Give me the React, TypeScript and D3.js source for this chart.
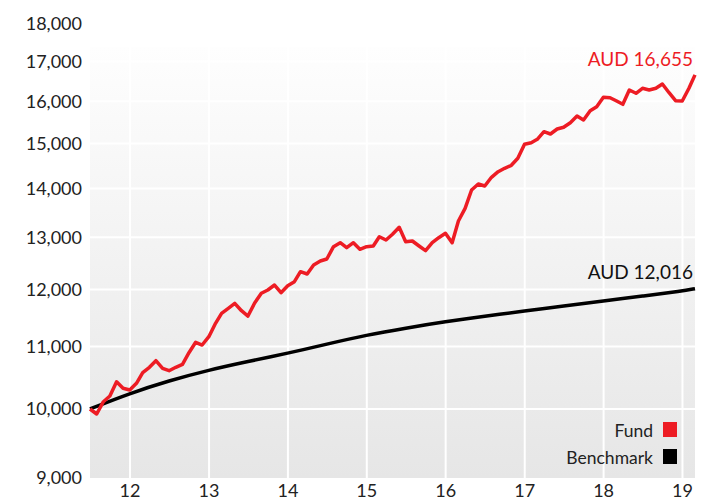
import * as d3 from "d3";

// fund growth of AUD 10,000, month-end values from Jun 2011
const fundStart = new Date(2011, 6, 0);
const fundValues = [
  10000, 9924, 10112, 10200, 10425, 10321, 10294, 10400, 10570, 10657,
  10765, 10641, 10602, 10657, 10706, 10897, 11072, 11026, 11167, 11398,
  11573, 11662, 11751, 11619, 11525, 11757, 11932, 11992, 12084, 11943,
  12071, 12145, 12332, 12289, 12459, 12535, 12573, 12812, 12890, 12792,
  12890, 12761, 12812, 12825, 13009, 12943, 13057, 13197, 12910, 12924,
  12825, 12734, 12890, 12989, 13077, 12890, 13324, 13585, 13970, 14099,
  14056, 14244, 14366, 14441, 14507, 14663, 14980, 15016, 15094, 15271,
  15217, 15334, 15374, 15482, 15641, 15546, 15768, 15865, 16094, 16084,
  16011, 15923, 16275, 16193, 16317, 16275, 16317, 16424, 16207, 16011,
  16003, 16317, 16655,
];

const benchDates = [
  "2011-06-30", "2011-12-31", "2012-06-30", "2012-12-31", "2013-06-30",
  "2013-12-31", "2014-06-30", "2014-12-31", "2015-06-30", "2015-12-31",
  "2016-06-30", "2016-12-31", "2017-06-30", "2017-12-31", "2018-06-30",
  "2018-12-31", "2019-02-28",
];
const benchValues = [
  10000, 10242, 10441, 10613, 10752, 10887, 11042, 11196, 11315, 11426,
  11522, 11614, 11703, 11792, 11882, 11974, 12016,
];

const yTicks = [9000, 10000, 11000, 12000, 13000, 14000, 15000, 16000, 17000, 18000];
const xTickYears = [2012, 2013, 2014, 2015, 2016, 2017, 2018, 2019];
const legendItems = [
  { label: "Fund", color: "#ed1c24" },
  { label: "Benchmark", color: "#000000" },
];

const width = 709;
const height = 500;
const margin = { top: 47, right: 14, bottom: 22, left: 90 };
const font = "Lato, 'Noto Sans', sans-serif";

export default function App() {
  const fund = fundValues.map((v, i) => ({
    date: new Date(fundStart.getFullYear(), fundStart.getMonth() + 1 + i, 0),
    value: v,
  }));
  const parse = d3.timeParse("%Y-%m-%d");
  const bench = benchDates.map((d, i) => ({ date: parse(d) as Date, value: benchValues[i] }));

  const x = d3
    .scaleTime()
    .domain([fund[0].date, fund[fund.length - 1].date])
    .range([margin.left, width - margin.right]);

  const y = d3.scaleLog().domain([9000, 18000]).range([height - margin.bottom, 24]);

  const line = d3
    .line<{ date: Date; value: number }>()
    .x((d) => x(d.date))
    .y((d) => y(d.value));

  const benchLine = d3
    .line<{ date: Date; value: number }>()
    .x((d) => x(d.date))
    .y((d) => y(d.value))
    .curve(d3.curveBasis);

  const fmt = d3.format(",");
  const plotRight = width - margin.right;
  const plotBottom = height - margin.bottom;
  const lastFund = fund[fund.length - 1];
  const lastBench = bench[bench.length - 1];

  return (
    <svg
      width={width}
      height={height}
      style={{ position: "absolute", left: 0, top: 0, background: "#fff" }}
      fontFamily={font}
    >
      <defs>
        <linearGradient id="bg" x1="0" y1="0" x2="0" y2="1">
          <stop offset="0%" stopColor="#fefefe" />
          <stop offset="100%" stopColor="#e6e6e6" />
        </linearGradient>
      </defs>

      <rect
        x={margin.left}
        y={margin.top}
        width={plotRight - margin.left}
        height={plotBottom - margin.top}
        fill="url(#bg)"
      />

      {/* grid */}
      {yTicks.slice(1, -1).map((t) => (
        <line
          key={t}
          x1={margin.left}
          x2={plotRight}
          y1={y(t)}
          y2={y(t)}
          stroke="#fff"
          strokeWidth={2}
        />
      ))}
      {xTickYears.map((yr) => (
        <line
          key={yr}
          x1={x(new Date(yr, 0, 1))}
          x2={x(new Date(yr, 0, 1))}
          y1={margin.top}
          y2={plotBottom}
          stroke="#fff"
          strokeWidth={2}
        />
      ))}

      {/* y labels */}
      {yTicks.map((t) => (
        <text
          key={t}
          x={82}
          y={y(t)}
          dy="0.36em"
          textAnchor="end"
          fontSize={18}
          fill="#222"
        >
          {fmt(t)}
        </text>
      ))}

      {/* x labels */}
      {xTickYears.map((yr) => (
        <text
          key={yr}
          x={x(new Date(yr, 0, 1))}
          y={497}
          textAnchor="middle"
          fontSize={18}
          fill="#222"
        >
          {String(yr).slice(2)}
        </text>
      ))}

      <path d={benchLine(bench) ?? ""} fill="none" stroke="#000" strokeWidth={3.5} />
      <path
        d={line(fund) ?? ""}
        fill="none"
        stroke="#ed1c24"
        strokeWidth={3.5}
        strokeLinejoin="round"
      />

      <text x={x(lastFund.date) - 2} y={66} textAnchor="end" fontSize={19} fill="#ed1c24">
        AUD {fmt(lastFund.value)}
      </text>
      <text x={x(lastBench.date) - 2} y={279} textAnchor="end" fontSize={19} fill="#111">
        AUD {fmt(lastBench.value)}
      </text>

      {/* legend */}
      {legendItems.map((item, i) => (
        <g key={item.label} transform={`translate(0,${422 + i * 27})`}>
          <text x={653} y={15} textAnchor="end" fontSize={17.5} fill="#222">
            {item.label}
          </text>
          <rect x={663} y={0} width={14} height={15} fill={item.color} />
        </g>
      ))}
    </svg>
  );
}
